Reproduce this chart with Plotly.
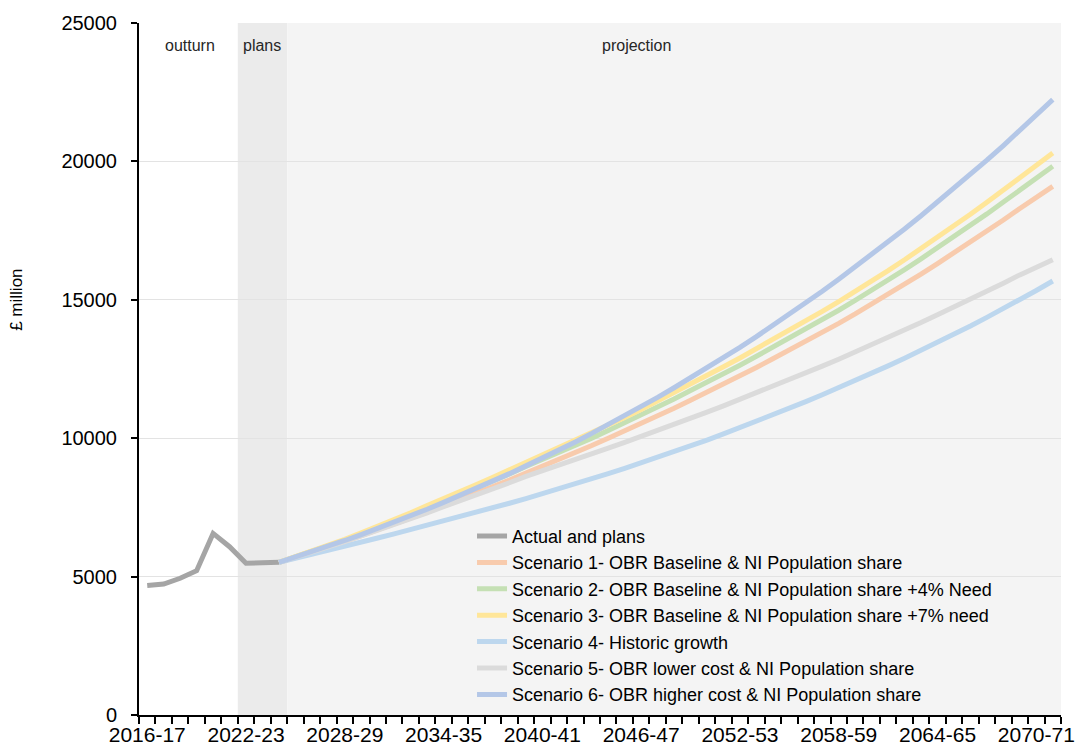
import plotly.graph_objects as go

years = ["2016-17", "2017-18", "2018-19", "2019-20", "2020-21", "2021-22", "2022-23", "2023-24",
         "2024-25", "2025-26", "2026-27", "2027-28", "2028-29", "2029-30", "2030-31", "2031-32",
         "2032-33", "2033-34", "2034-35", "2035-36", "2036-37", "2037-38", "2038-39", "2039-40",
         "2040-41", "2041-42", "2042-43", "2043-44", "2044-45", "2045-46", "2046-47", "2047-48",
         "2048-49", "2049-50", "2050-51", "2051-52", "2052-53", "2053-54", "2054-55", "2055-56",
         "2056-57", "2057-58", "2058-59", "2059-60", "2060-61", "2061-62", "2062-63", "2063-64",
         "2064-65", "2065-66", "2066-67", "2067-68", "2068-69", "2069-70", "2070-71", "2071-72"]

tick_labels = ["2016-17", "2022-23", "2028-29", "2034-35", "2040-41", "2046-47",
               "2052-53", "2058-59", "2064-65", "2070-71"]

y_ticks = [0, 5000, 10000, 15000, 20000, 25000]

# Actual and plans: 2016-17 .. 2024-25
actual = [4680, 4730, 4940, 5215, 6560, 6080, 5480, 5480, 5515]

# Projections: 2024-25 .. 2071-72
proj_years = years[8:]
s1 = [5515, 5696, 5882, 6075, 6274, 6480, 6683, 6892, 7108, 7330, 7560, 7783, 8012, 8247, 8490, 8740,
      8979, 9224, 9476, 9734, 10000, 10260, 10527, 10801, 11082, 11370, 11655, 11948, 12248, 12555,
      12870, 13179, 13495, 13819, 14150, 14490, 14837, 15192, 15556, 15929, 16310, 16690, 17079,
      17476, 17883, 18300, 18696, 19100]
s2 = [5515, 5706, 5903, 6108, 6319, 6538, 6760, 6989, 7226, 7470, 7723, 7960, 8202, 8452, 8710, 8976,
      9222, 9475, 9735, 10002, 10276, 10551, 10833, 11122, 11420, 11725, 12021, 12327, 12639, 12959,
      13287, 13609, 13939, 14277, 14622, 14977, 15339, 15710, 16090, 16480, 16878, 17277, 17686,
      18103, 18531, 18970, 19392, 19822]
s3 = [5515, 5713, 5917, 6130, 6349, 6577, 6811, 7053, 7304, 7563, 7832, 8077, 8329, 8588, 8857, 9133,
      9385, 9643, 9908, 10180, 10460, 10744, 11037, 11337, 11645, 11961, 12266, 12579, 12900, 13228,
      13565, 13896, 14235, 14582, 14937, 15301, 15674, 16055, 16446, 16847, 17256, 17668, 18090,
      18521, 18963, 19416, 19855, 20303]
s4 = [5515, 5655, 5798, 5945, 6096, 6250, 6395, 6544, 6696, 6851, 7010, 7165, 7323, 7485, 7651, 7820,
      7992, 8168, 8348, 8532, 8720, 8911, 9107, 9307, 9511, 9720, 9934, 10153, 10377, 10606,
      10840, 11077, 11320, 11568, 11821, 12080, 12344, 12614, 12890, 13172, 13460, 13755, 14056,
      14364, 14678, 15000, 15336, 15680]
s5 = [5515, 5694, 5879, 6070, 6267, 6470, 6669, 6875, 7087, 7305, 7530, 7736, 7948, 8166, 8390, 8620,
      8815, 9014, 9218, 9427, 9640, 9847, 10058, 10274, 10495, 10720, 10943, 11170, 11402, 11638,
      11880, 12116, 12358, 12603, 12854, 13110, 13369, 13634, 13904, 14179, 14460, 14737, 15020,
      15308, 15601, 15900, 16173, 16450]
s6 = [5515, 5703, 5897, 6098, 6305, 6520, 6737, 6961, 7193, 7433, 7680, 7928, 8183, 8447, 8719, 9000,
      9280, 9569, 9866, 10173, 10490, 10808, 11136, 11474, 11822, 12180, 12537, 12903, 13281, 13670,
      14070, 14471, 14882, 15306, 15742, 16190, 16633, 17088, 17556, 18036, 18530, 19021, 19525,
      20043, 20574, 21120, 21668, 22230]

series = [
    ("Actual and plans", years[:9], actual, "#A5A5A5"),
    ("Scenario 1- OBR Baseline & NI Population share", proj_years, s1, "#F8CBAD"),
    ("Scenario 2- OBR Baseline & NI Population share +4% Need", proj_years, s2, "#C5E0B4"),
    ("Scenario 3- OBR Baseline & NI Population share +7% need", proj_years, s3, "#FFE699"),
    ("Scenario 4- Historic growth", proj_years, s4, "#BDD7EE"),
    ("Scenario 5- OBR lower cost & NI Population share", proj_years, s5, "#DBDBDB"),
    ("Scenario 6- OBR higher cost & NI Population share", proj_years, s6, "#B4C7E7"),
]

FONT = "Liberation Sans, Arial, sans-serif"

fig = go.Figure()
for name, xs, ys, col in series:
    fig.add_trace(go.Scatter(x=xs, y=ys, mode="lines", name=name,
                             line=dict(color=col, width=5)))

# period shading (category index coordinates)
fig.add_shape(type="rect", xref="x", yref="paper", x0=5.5, x1=8.5, y0=0, y1=1,
              fillcolor="#EBEBEB", line_width=0, layer="below")
fig.add_shape(type="rect", xref="x", yref="paper", x0=8.5, x1=55.5, y0=0, y1=1,
              fillcolor="#F4F4F4", line_width=0, layer="below")

for txt, xpos in [("outturn", 2.6), ("plans", 6.95), ("projection", 29.7)]:
    fig.add_annotation(x=xpos, xref="x", y=0.968, yref="paper", text=txt, showarrow=False,
                       xanchor="center", yanchor="middle",
                       font=dict(family=FONT, size=16, color="#262626"))

# y axis title (sits above the axis centre in the original)
fig.add_annotation(x=-0.1323, xref="paper", y=0.6, yref="paper", text="£ million",
                   textangle=-90, showarrow=False, xanchor="center", yanchor="middle",
                   font=dict(family=FONT, size=17, color="black"))

fig.update_layout(
    width=1076, height=751,
    margin=dict(l=139, r=15, t=23, b=36),
    paper_bgcolor="white", plot_bgcolor="white",
    font=dict(family=FONT, color="black"),
    showlegend=True,
    legend=dict(x=0.3612, y=0.285, xanchor="left", yanchor="top",
                bgcolor="rgba(0,0,0,0)", font=dict(family=FONT, size=18, color="black"),
                tracegroupgap=0),
    xaxis=dict(type="category", categoryorder="array", categoryarray=years,
               range=[-0.5, 55.5], tickmode="array", tickvals=years,
               ticktext=[y if y in tick_labels else "" for y in years],
               tickangle=0, automargin=False,
               tickson="boundaries", ticks="outside", ticklen=7, tickwidth=1.5,
               tickcolor="black", showline=True, linecolor="black", linewidth=2,
               showgrid=False, tickfont=dict(family=FONT, size=21, color="black")),
    yaxis=dict(range=[0, 25000], tickmode="array", tickvals=y_ticks,
               ticktext=[str(v) for v in y_ticks], automargin=False,
               ticks="outside", ticklen=6, tickwidth=1.5, tickcolor="black",
               ticklabelstandoff=10,
               showline=True, linecolor="black", linewidth=2,
               showgrid=True, gridcolor="#E3E3E3", gridwidth=1, zeroline=False,
               tickfont=dict(family=FONT, size=20, color="black")),
)

# remove the default page margin so the 1076x751 figure fills the window exactly
fig.write_html("out.html", config={"displayModeBar": False},
               post_script="document.body.style.margin='0';document.body.style.overflow='hidden';")
